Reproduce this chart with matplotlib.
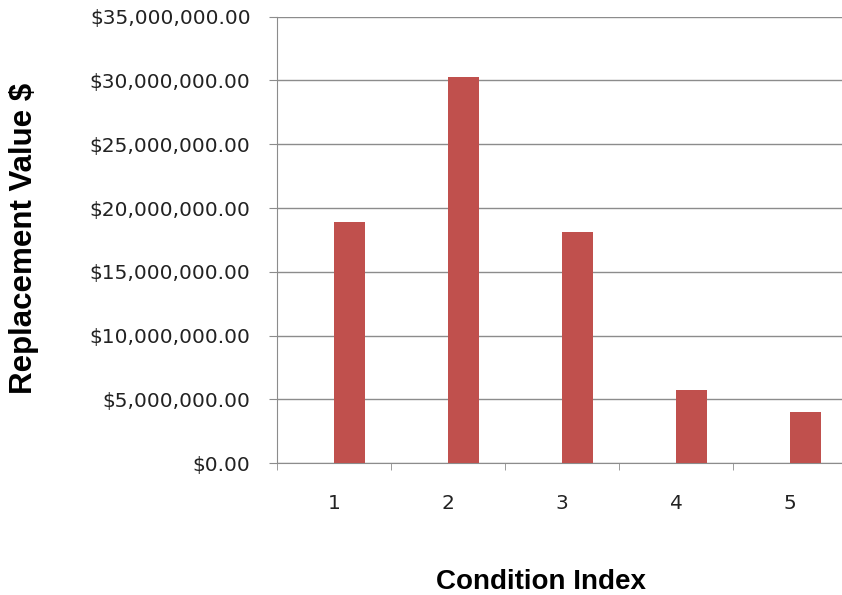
import numpy as np
import matplotlib.pyplot as plt
from matplotlib.ticker import FuncFormatter, FixedLocator

# replacement value per condition index
condition_index = ["1", "2", "3", "4", "5"]
replacement_value = [18.93e6, 30.25e6, 18.1e6, 5.74e6, 4.0e6]

BAR_COLOR = "#C0504D"
GRID_COLOR = "#8C8C8C"

fig = plt.figure(figsize=(8.42, 5.95), dpi=100)
# right edge runs slightly past the canvas
ax = fig.add_axes([277 / 842, 1 - 463.3 / 595, 570 / 842, (463.3 - 16.7) / 595])

x = np.arange(len(condition_index))
bar_w = 0.275
ax.bar(x + bar_w / 2, replacement_value, width=bar_w, color=BAR_COLOR, zorder=3)

ax.set_xlim(-0.5, len(condition_index) - 0.5)
ax.set_ylim(0, 35e6)
ax.yaxis.set_major_locator(FixedLocator(np.arange(0, 35e6 + 1, 5e6)))
ax.yaxis.set_major_formatter(FuncFormatter(lambda v, _: f"${v:,.2f}"))
ax.grid(axis="y", color=GRID_COLOR, lw=1.0, zorder=0)

ax.set_xticks(x)
ax.set_xticklabels(condition_index)
ax.set_xticks(np.arange(-0.5, len(condition_index), 1), minor=True)
ax.tick_params(axis="x", which="major", length=0, pad=22, labelsize=14.5, colors="#222222")
ax.tick_params(axis="x", which="minor", length=5, color=GRID_COLOR, direction="out")
ax.tick_params(axis="y", length=6, color=GRID_COLOR, pad=13, labelsize=14.5, labelcolor="#222222")
for lbl in ax.get_xticklabels() + ax.get_yticklabels():
    lbl.set_family("DejaVu Sans")

for side in ["top", "right"]:
    ax.spines[side].set_visible(False)
ax.spines["left"].set_color(GRID_COLOR)
ax.spines["bottom"].set_color(GRID_COLOR)

fig.text(24 / 842, 1 - 238 / 595, "Replacement Value $", rotation=90, ha="center", va="center",
         fontsize=22.5, fontweight="bold", family="Liberation Sans")
fig.text(541 / 842, 1 - 582 / 595, "Condition Index", ha="center", va="center",
         fontsize=20, fontweight="bold", family="Liberation Sans")

fig.savefig("out.png", dpi=100)
